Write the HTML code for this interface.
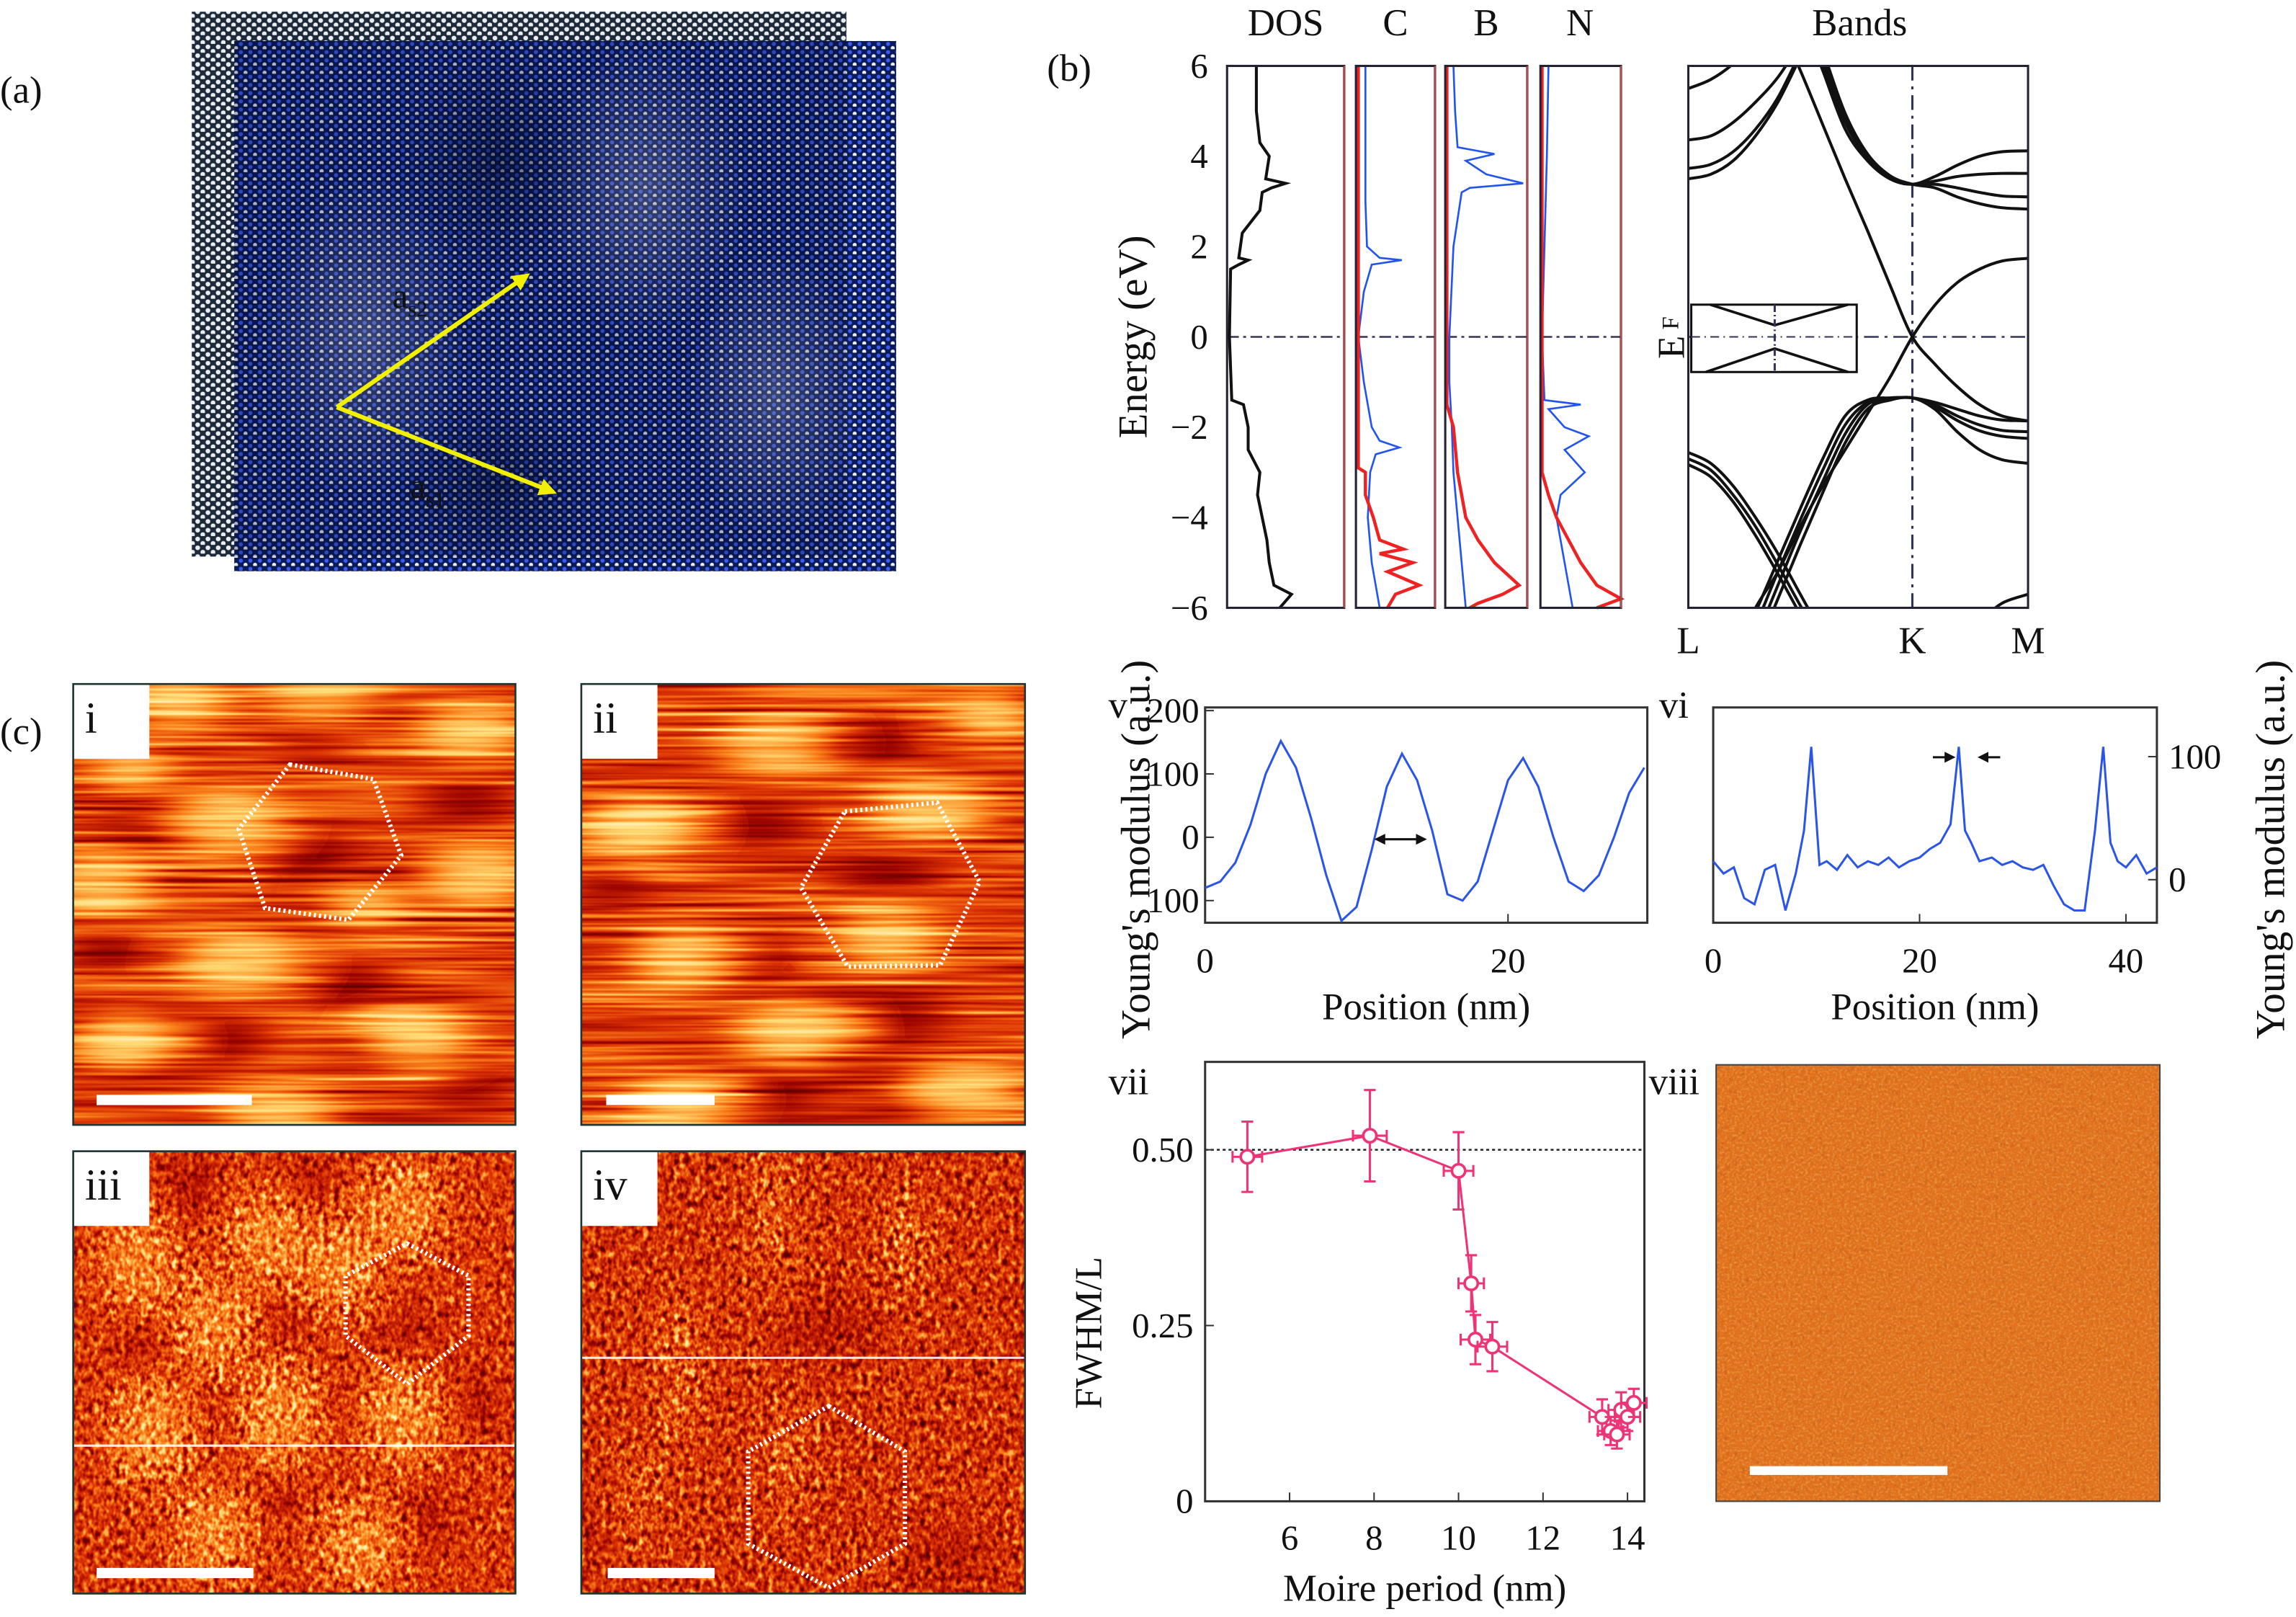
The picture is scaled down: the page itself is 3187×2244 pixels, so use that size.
<!DOCTYPE html>
<html><head><meta charset="utf-8"><style>
html,body{margin:0;padding:0;background:#fff;}
svg{display:block;}
text{font-family:"Liberation Serif",serif;fill:#111;}
</style></head><body>
<svg id="fig" xmlns="http://www.w3.org/2000/svg" width="3187" height="2244" viewBox="0 0 1568 1104" preserveAspectRatio="none" font-family="Liberation Serif, serif">
<defs>
  <pattern id="latG" width="7" height="6" patternUnits="userSpaceOnUse"><rect width="7" height="6" fill="#1e2a3a"/><circle cx="2" cy="2" r="1.6" fill="#e8eef0"/><circle cx="5.5" cy="5" r="1.6" fill="#e8eef0"/></pattern>
  <pattern id="latB" width="6.5" height="5.6" patternUnits="userSpaceOnUse"><rect width="6.5" height="5.6" fill="#0b1a58"/><circle cx="2" cy="2" r="1.4" fill="#3a5cf0"/><circle cx="5.2" cy="4.8" r="1.4" fill="#e8eefa"/></pattern>
  <radialGradient id="moireLight"><stop offset="0" stop-color="#ffffff" stop-opacity="0.2"/><stop offset="1" stop-color="#ffffff" stop-opacity="0"/></radialGradient>
  <radialGradient id="moireDark"><stop offset="0" stop-color="#000820" stop-opacity="0.45"/><stop offset="1" stop-color="#000820" stop-opacity="0"/></radialGradient>
  <filter id="blurA" x="-20%" y="-20%" width="140%" height="140%"><feGaussianBlur stdDeviation="15 8"/></filter>
  <filter id="blurB" x="-20%" y="-20%" width="140%" height="140%"><feGaussianBlur stdDeviation="12"/></filter>
  <filter id="noiseStreak" x="0" y="0" width="100%" height="100%" color-interpolation-filters="sRGB">
    <feTurbulence type="fractalNoise" baseFrequency="0.006 0.3" numOctaves="2" seed="3"/>
    <feColorMatrix type="matrix" values="1 1 0 0 -0.5  1 1 0 0 -0.5  1 1 0 0 -0.5  0 0 0 0 1"/>
  </filter>
  <filter id="noiseGrain" x="0" y="0" width="100%" height="100%" color-interpolation-filters="sRGB">
    <feTurbulence type="fractalNoise" baseFrequency="0.28 0.2" numOctaves="2" seed="7"/>
    <feColorMatrix type="matrix" values="1.2 1.2 0 0 -0.7  1.2 1.2 0 0 -0.7  1.2 1.2 0 0 -0.7  0 0 0 0 1"/>
  </filter>
  <filter id="hot" color-interpolation-filters="sRGB">
    <feComponentTransfer>
      <feFuncR type="table" tableValues="0.25 0.62 0.86 0.98 1 1"/>
      <feFuncG type="table" tableValues="0 0.02 0.2 0.5 0.85 1"/>
      <feFuncB type="table" tableValues="0 0 0.02 0.1 0.45 0.9"/>
    </feComponentTransfer>
  </filter>
  <filter id="fineNoise" x="0" y="0" width="100%" height="100%">
    <feTurbulence type="fractalNoise" baseFrequency="0.6" numOctaves="2" seed="5"/>
    <feColorMatrix type="matrix" values="0 0 0 0 1  0 0 0 0 0.75  0 0 0 0 0.3  1.8 0 0 0 -0.8"/>
  </filter>
  <filter id="grainDark" x="0" y="0" width="100%" height="100%">
    <feTurbulence type="fractalNoise" baseFrequency="0.4 0.25" numOctaves="2" seed="11"/>
    <feColorMatrix type="matrix" values="0 0 0 0 0.25  0 0 0 0 0.02  0 0 0 0 0  -2.4 0 0 0 1.05"/>
  </filter>
  <marker id="arrY" viewBox="0 0 10 10" refX="8" refY="5" markerWidth="4" markerHeight="4" orient="auto"><path d="M0,0 L10,5 L0,10 Z" fill="#f0f000"/></marker>
  <marker id="arrK" viewBox="0 0 10 10" refX="8" refY="5" markerWidth="5" markerHeight="5" orient="auto-start-reverse"><path d="M0,0 L10,5 L0,10 Z" fill="#111"/></marker>
  <clipPath id="clipBands"><rect x="1153" y="45" width="232" height="370"/></clipPath>
</defs>

<text x="0" y="70" font-size="26">(a)</text>
<g>
  <rect x="131" y="8" width="447" height="372" fill="url(#latG)"/>
  <rect x="160" y="28" width="452" height="362" fill="url(#latB)"/>
  <rect x="160" y="28" width="418" height="352" fill="#050c30" opacity="0.25"/>
  <ellipse cx="250" cy="230" rx="70" ry="110" fill="url(#moireLight)"/>
  <ellipse cx="440" cy="130" rx="70" ry="100" fill="url(#moireLight)"/>
  <ellipse cx="530" cy="270" rx="60" ry="100" fill="url(#moireLight)"/>
  <ellipse cx="340" cy="110" rx="70" ry="80" fill="url(#moireDark)"/>
  <ellipse cx="340" cy="330" rx="70" ry="60" fill="url(#moireDark)"/>
  <line x1="230" y1="278" x2="360" y2="188" stroke="#f0f000" stroke-width="3" marker-end="url(#arrY)"/>
  <line x1="230" y1="278" x2="378" y2="336" stroke="#f0f000" stroke-width="3" marker-end="url(#arrY)"/>
  <text x="268" y="210" font-size="24" fill="#000">a<tspan font-size="15" dy="6">s2</tspan></text>
  <text x="280" y="340" font-size="24" fill="#000">a<tspan font-size="15" dy="6">s1</tspan></text>
</g>

<text x="715" y="55" font-size="26">(b)</text>
<g id="bpanel"></g>

<text x="0" y="508" font-size="26">(c)</text>
<g id="afm"></g>
<g id="charts"></g>
</svg>
<script>
const NS="http://www.w3.org/2000/svg";
function el(tag,attrs,parent){const e=document.createElementNS(NS,tag);for(const k in attrs)e.setAttribute(k,attrs[k]);(parent||document.getElementById('fig')).appendChild(e);return e;}
function txt(s,x,y,size,parent,extra){const t=el('text',Object.assign({x:x,y:y,'font-size':size},extra||{}),parent);t.textContent=s;return t;}
function smooth(pts){if(pts.length<2)return'';let d='M'+pts[0][0]+','+pts[0][1];for(let i=0;i<pts.length-1;i++){const p0=pts[i-1]||pts[i],p1=pts[i],p2=pts[i+1],p3=pts[i+2]||p2;const c1=[p1[0]+(p2[0]-p0[0])/6,p1[1]+(p2[1]-p0[1])/6],c2=[p2[0]-(p3[0]-p1[0])/6,p2[1]-(p3[1]-p1[1])/6];d+=' C'+c1[0]+','+c1[1]+' '+c2[0]+','+c2[1]+' '+p2[0]+','+p2[1];}return d;}

const energyTicks=[6,4,2,0,-2,-4,-6];
const dosE=[6,5,4.3,4,3.5,3.4,3.3,3.2,2.8,2.3,1.75,1.7,1.6,1.5,0,-1.4,-1.5,-2,-2.5,-3,-3.5,-4,-4.5,-5,-5.5,-5.7,-5.85,-6];
const dosV=[.25,.25,.28,.36,.33,.5,.38,.3,.28,.13,.1,.18,.1,.03,.02,.04,.14,.18,.18,.28,.26,.3,.34,.36,.4,.55,.5,.45];
const cBlueE=[6,3,2,1.75,1.7,1.6,1,0,-1,-2,-2.3,-2.45,-2.6,-3,-4,-5,-6];
const cBlueV=[.12,.12,.14,.3,.58,.2,.1,.03,.1,.2,.3,.55,.25,.18,.15,.2,.3];
const cRedE=[6,-2.9,-3,-3.5,-4,-4.5,-4.7,-4.8,-5,-5.2,-5.5,-5.7,-6];
const cRedV=[.03,.03,.12,.12,.22,.3,.6,.3,.72,.4,.8,.5,.4];
const bBlueE=[6,5,4.2,4.05,3.9,3.6,3.4,3.3,3.2,2,0,-1,-2,-3,-4,-5,-6];
const bBlueV=[.1,.12,.15,.6,.25,.5,.95,.3,.2,.1,.05,.05,.08,.1,.15,.2,.25];
const bRedE=[6,-1.5,-2,-3,-4,-4.5,-5,-5.5,-5.7,-5.9,-6];
const bRedV=[.02,.02,.1,.15,.25,.4,.6,.9,.7,.4,.3];
const nBlueE=[6,4,2,0,-1.4,-1.5,-1.6,-2,-2.2,-2.5,-3,-3.5,-4,-5,-6];
const nBlueV=[.1,.08,.05,.02,.05,.5,.1,.3,.6,.3,.55,.25,.2,.3,.4];
const nRedE=[6,-3,-3.5,-4,-4.5,-5,-5.5,-5.8,-6];
const nRedV=[.02,.02,.1,.2,.35,.5,.7,1,.7];
const bandK=[0,.1,.2,.3,.4,.5,.6,.7,.8,.9,1,1.1,1.2,1.3,1.4,1.516];
const bandsE=[
 [14.9,14,13,8,7,5.9,4.7,3.5,2.35,1.15,0,-.6,-1.1,-1.5,-1.75,-1.86],
 [-9,-8,-7,-6,-5.2,-4.2,-3.3,-2.5,-1.7,-.9,0,.7,1.2,1.5,1.68,1.74],
 [null,null,null,null,9,7.2,5.9,4.6,3.9,3.5,3.38,3.55,3.8,4.0,4.1,4.12],
 [null,null,null,null,9,7.4,6.05,4.75,3.95,3.52,3.38,3.45,3.55,3.6,3.62,3.62],
 [null,null,null,null,9,7.6,6.2,4.85,4.0,3.55,3.38,3.38,3.3,3.2,3.12,3.1],
 [null,null,null,null,9,7.8,6.35,4.95,4.05,3.57,3.38,3.3,3.1,2.95,2.86,2.83],
 [5.5,5.7,6.05,6.6],
 [4.36,4.45,4.75,5.2,5.75,6.5],
 [3.73,3.82,4.1,4.6,5.3,6.3],
 [3.5,3.6,3.9,4.45,5.2,6.2],
 [-9.5,-8.3,-7.2,-6.1,-4.95,-3.8,-2.7,-1.75,-1.4,-1.35,-1.35,-1.45,-1.6,-1.75,-1.84,-1.86],
 [-9.8,-8.6,-7.5,-6.4,-5.2,-4.05,-2.95,-1.95,-1.45,-1.36,-1.35,-1.5,-1.75,-1.95,-2.07,-2.1],
 [-10.1,-8.9,-7.8,-6.7,-5.5,-4.3,-3.2,-2.15,-1.5,-1.38,-1.35,-1.55,-1.85,-2.08,-2.2,-2.25],
 [-10.4,-9.2,-8.1,-7.0,-5.8,-4.6,-3.45,-2.35,-1.6,-1.4,-1.35,-1.6,-2.1,-2.5,-2.72,-2.8],
 [-2.56,-2.8,-3.3,-4.0,-4.8,-5.7,-6.6],
 [-2.83,-3.1,-3.65,-4.4,-5.25,-6.15,-7.0],
 [-2.7,-2.95,-3.5,-4.2,-5.05,-5.95,-6.8],
 [null,null,null,null,null,null,null,null,null,null,null,null,null,-6.3,-5.9,-5.7]
];

const B=document.getElementById('bpanel');
const yE=e=>230-e*30.83;
[['DOS',878],['C',953],['B',1015],['N',1079],['Bands',1270]].forEach(([s,x])=>{const t=txt(s,x,24,26,B,{'text-anchor':'middle'});});
energyTicks.forEach(e=>{const t=txt(String(e).replace('-','−'),825,yE(e)+8,24,B,{'text-anchor':'end'});});
const yt=txt('Energy (eV)',0,0,28,B,{'text-anchor':'middle',transform:'translate(783,230) rotate(-90)'});

const panels=[{n:'dos',x:838,w:80,lines:[[dosE,dosV,'#111',2]]},
 {n:'c',x:926,w:54,lines:[[cBlueE,cBlueV,'#2255ee',1.3],[cRedE,cRedV,'#ee2222',2.2]]},
 {n:'b',x:987,w:56,lines:[[bBlueE,bBlueV,'#2255ee',1.3],[bRedE,bRedV,'#ee2222',2.2]]},
 {n:'n',x:1052,w:55,lines:[[nBlueE,nBlueV,'#2255ee',1.3],[nRedE,nRedV,'#ee2222',2.2]]}];
panels.forEach(p=>{
  const g=el('g',{},B);
  el('line',{x1:p.x,y1:yE(0),x2:p.x+p.w,y2:yE(0),stroke:'#335',"stroke-width":1.2,'stroke-dasharray':'8 3 2 3'},g);
  p.lines.forEach(([E,V,c,w])=>{const pts=E.map((e,i)=>[p.x+V[i]*p.w,yE(e)]);const l=el('polyline',{points:pts.map(q=>q.join(',')).join(' '),fill:'none',stroke:c,'stroke-width':w},g);});
  el('rect',{x:p.x,y:45,width:p.w,height:370,fill:'none',stroke:'#223',"stroke-width":1.5},g);
  el('line',{x1:p.x+p.w,y1:45,x2:p.x+p.w,y2:415,stroke:'#c44',"stroke-width":1},g);
});
const kx=k=>1153+k*153;
const bg=el('g',{'clip-path':'url(#clipBands)'},B);

el('line',{x1:1153,y1:yE(0),x2:1385,y2:yE(0),stroke:'#335',"stroke-width":1.2,'stroke-dasharray':'10 4 2 4'},bg);
el('line',{x1:kx(1),y1:45,x2:kx(1),y2:415,stroke:'#335',"stroke-width":1.5,'stroke-dasharray':'10 4 2 4'},bg);
bandsE.forEach(arr=>{const pts=[];arr.forEach((e,i)=>{if(e!==null)pts.push([kx(bandK[i]),yE(e)]);});const b=el('path',{d:smooth(pts),fill:'none',stroke:'#111','stroke-width':2},bg);});
el('rect',{x:1153,y:45,width:232,height:370,fill:'none',stroke:'#223','stroke-width':1.5},B);
const ins=el('g',{},B);
el('rect',{x:1155,y:208,width:113,height:46,fill:'#fff',stroke:'#111','stroke-width':1.5},ins);
el('polyline',{points:'1168,208 1212,222 1262,208',fill:'none',stroke:'#111','stroke-width':1.8},ins);
el('polyline',{points:'1165,254 1212,238 1262,254',fill:'none',stroke:'#111','stroke-width':1.8},ins);
el('line',{x1:1212,y1:208,x2:1212,y2:254,stroke:'#335','stroke-width':1.5,'stroke-dasharray':'5 2 1 2'},ins);
el('line',{x1:1155,y1:230,x2:1268,y2:230,stroke:'#335','stroke-width':1,'stroke-dasharray':'6 3 1 3'},ins);
const ef=txt('E',0,0,26,B,{transform:'translate(1150,245) rotate(-90)'});
txt('F',0,0,16,B,{transform:'translate(1146,225) rotate(-90)'});
[['L',0],['K',1],['M',1.516]].forEach(([s,k])=>{const t=txt(s,kx(k),446,26,B,{'text-anchor':'middle'});});

/* ---------- AFM images ---------- */
const A=document.getElementById('afm');
const afmPanels=[
 {n:'i',x:50,y:467,w:302,h:301,base:'#6e6e6e',blur:'blurA',noise:'noiseStreak',nop:.75,bo:.6,do:.6,
  bright:[[17,134,40,22],[101,93,42,24],[113,190,44,22],[273,130,40,22],[273,32,40,20],[34,243,38,22],[139,291,42,18],[235,243,38,20],[168,8,42,16],[71,12,38,18],[40,60,30,16],[200,150,30,16]],
  dark:[[164,36,28,14],[164,120,30,20],[269,81,32,16],[55,85,30,14],[189,206,32,16],[105,243,28,14],[269,275,32,14],[21,178,28,14]],
  hex:'198,522 255,532 274,584 238,628 181,620 163,566',bar:[66,172,751]},
 {n:'ii',x:397,y:467,w:303,h:301,base:'#6e6e6e',blur:'blurA',noise:'noiseStreak',nop:.75,bo:.6,do:.6,
  bright:[[41,97,40,20],[134,40,42,20],[238,85,42,20],[146,235,42,20],[259,277,44,20],[70,283,38,18],[70,186,38,20],[209,174,38,20],[280,20,32,18]],
  dark:[[121,95,34,16],[192,40,36,16],[209,134,36,16],[112,190,34,16],[217,231,34,16],[129,279,34,16],[20,136,28,14]],
  hex:'577,554 640,548 669,602 642,659 579,660 547,606',bar:[414,488,751]},
 {n:'iii',x:50,y:786,w:302,h:302,base:'#666666',blur:'blurB',noise:'noiseGrain',nop:.8,bo:.38,do:.4,
  bright:[[53,192,28,36],[141,180,28,36],[225,180,28,36],[95,119,26,32],[132,59,26,32],[225,38,26,32],[44,75,26,32],[183,79,26,32],[95,261,26,32],[195,269,26,32]],
  dark:[[53,132,24,26],[99,176,22,24],[183,176,22,24],[141,119,22,26],[267,172,22,24],[225,132,22,26],[82,30,22,24],[158,30,22,24],[141,233,22,24],[233,249,22,24]],
  hex:'278,849 320,871 320,912 278,945 236,912 236,871',bar:[66,173,1074],line:987},
 {n:'iv',x:397,y:786,w:303,h:302,base:'#626262',blur:'blurB',noise:'noiseGrain',nop:.9,bo:.3,do:.25,dk:true,
  bright:[[66,150,9,55],[129,40,9,50],[222,60,9,40],[140,210,8,40],[40,240,12,35]],
  dark:[[30,250,30,35],[250,280,30,25],[170,120,35,25]],
  hex:'566,960 618,991 618,1054 566,1084 511,1054 511,991',bar:[415,488,1074],line:927}
];
afmPanels.forEach((p,idx)=>{
  const cid='clipAfm'+idx;
  const cp=el('clipPath',{id:cid},document.querySelector('defs'));el('rect',{x:p.x,y:p.y,width:p.w,height:p.h},cp);
  const g=el('g',{'clip-path':'url(#'+cid+')'},A);
  
  const hg=el('g',{filter:'url(#hot)'},g);
  el('rect',{x:p.x,y:p.y,width:p.w,height:p.h,fill:p.base},hg);
  const blobs=el('g',{filter:'url(#'+p.blur+')'},hg);
  p.dark.forEach(b=>el('ellipse',{cx:p.x+b[0],cy:p.y+b[1],rx:b[2],ry:b[3],fill:'#000',opacity:p.do},blobs));
  p.bright.forEach(b=>el('ellipse',{cx:p.x+b[0],cy:p.y+b[1],rx:b[2],ry:b[3],fill:'#fff',opacity:p.bo},blobs));
  el('rect',{x:p.x,y:p.y,width:p.w,height:p.h,filter:'url(#'+p.noise+')',opacity:p.nop,style:'mix-blend-mode:overlay'},hg);
  if(p.dk)el('rect',{x:p.x,y:p.y,width:p.w,height:p.h,filter:'url(#grainDark)',opacity:.45},g);
  if(p.line)el('line',{x1:p.x,y1:p.line,x2:p.x+p.w,y2:p.line,stroke:'#fff','stroke-width':1.5,opacity:.9},g);
  const hx=el('polygon',{points:p.hex,fill:'none',stroke:'#fff','stroke-width':3,'stroke-dasharray':'1.5 2'},g);
  
  const sb=el('line',{x1:p.bar[0],y1:p.bar[2],x2:p.bar[1],y2:p.bar[2],stroke:'#fff','stroke-width':7},g);
  
  el('rect',{x:p.x-1,y:p.y-1,width:53,height:52,fill:'#fff'},g);
  el('rect',{x:p.x,y:p.y,width:p.w,height:p.h,fill:'none',stroke:'#233','stroke-width':1.3},A);
  const lb=txt(p.n,p.x+8,p.y+33,30,A);
});
(function(){
  const cp=el('clipPath',{id:'clip8'},document.querySelector('defs'));el('rect',{x:1172,y:727,width:303,height:298},cp);
  const g=el('g',{'clip-path':'url(#clip8)'},A);
  el('rect',{x:1172,y:727,width:303,height:298,fill:'#e0701c'},g);
  el('rect',{x:1172,y:727,width:303,height:298,filter:'url(#fineNoise)',opacity:.5},g);
  el('rect',{x:1172,y:727,width:303,height:298,filter:'url(#grainDark)',opacity:.25},g);
  const sb=el('line',{x1:1195,y1:1004,x2:1330,y2:1004,stroke:'#fff','stroke-width':6},g);
  
  el('rect',{x:1172,y:727,width:303,height:298,fill:'none',stroke:'#444','stroke-width':1},A);
})();

/* ---------- line profiles v, vi ---------- */
const profVx=[0,1,2,3,4,5,6,7,8,9,10,11,12,13,14,15,16,17,18,19,20,21,22,23,24,25,26,27,28,29];
const profVy=[-80,-70,-40,20,100,152,110,30,-60,-132,-110,-20,80,132,90,10,-90,-100,-70,10,90,125,80,0,-70,-85,-60,0,70,110];
const vTicksY=[200,100,0,-100];
const vTicksX=[0,20];
const profVIx=[0,1,2,3,4,5,6,7,8,8.8,9.5,10.3,11,12,13,14,15,16,17,18,19,20,21,22,23,23.8,24.4,25,25.8,27,28,29,30,31,32,33,34,35,36,37,37.8,38.5,39.2,40,41,42,43];
const profVIy=[15,5,10,-15,-20,8,12,-25,5,40,108,12,15,8,20,10,15,12,18,10,15,18,25,30,45,108,40,30,15,18,12,15,10,8,12,-5,-20,-25,-25,40,108,30,15,10,20,5,10];
const viTicksY=[100,0];
const viTicksX=[0,20,40];
const C=document.getElementById('charts');
function profile(name,box,xmax,ymin,ymax,xs,ys,ticksX,ticksY,tickSide){
  const g=el('g',{},C);
  const sx=v=>box.x+v/xmax*box.w, sy=v=>box.y+box.h-(v-ymin)/(ymax-ymin)*box.h;
  el('rect',{x:box.x,y:box.y,width:box.w,height:box.h,fill:'none',stroke:'#333','stroke-width':1.5},g);
  const pl=el('polyline',{points:xs.map((x,i)=>sx(x)+','+sy(ys[i])).join(' '),fill:'none',stroke:'#2a55e6','stroke-width':1.5},g);
  
  ticksX.forEach(v=>{el('line',{x1:sx(v),y1:box.y+box.h,x2:sx(v),y2:box.y+box.h-6,stroke:'#333'},g);const t=txt(String(v),sx(v),box.y+box.h+34,24,g,{'text-anchor':'middle'});});
  ticksY.forEach(v=>{const X=tickSide==='left'?box.x:box.x+box.w;el('line',{x1:X,y1:sy(v),x2:tickSide==='left'?X+6:X-6,y2:sy(v),stroke:'#333'},g);
    const lab=v<0?String(-v):String(v);
    const t=txt(lab,tickSide==='left'?X-4:X+8,sy(v)+8,24,g,{'text-anchor':tickSide==='left'?'end':'start'});});
  const xt=txt('Position (nm)',box.x+box.w/2,box.y+box.h+66,26,g,{'text-anchor':'middle'});
  return {sx,sy,g};
}
const pv=profile('profile-v',{x:823,y:483,w:302,h:147},29.2,-135,205,profVx,profVy,vTicksX,vTicksY,'left');
el('line',{x1:940,y1:573,x2:973,y2:573,stroke:'#111','stroke-width':1.5,'marker-start':'url(#arrK)','marker-end':'url(#arrK)'},pv.g);
const pvi=profile('profile-vi',{x:1170,y:483,w:303,h:147},43,-35,140,profVIx,profVIy,viTicksX,viTicksY,'right');
el('line',{x1:1320,y1:517,x2:1334,y2:517,stroke:'#111','stroke-width':1.5,'marker-end':'url(#arrK)'},pvi.g);
el('line',{x1:1366,y1:517,x2:1352,y2:517,stroke:'#111','stroke-width':1.5,'marker-end':'url(#arrK)'},pvi.g);
let t1=txt("Young's modulus (a.u.)",0,0,28,C,{'text-anchor':'middle',transform:'translate(785,580) rotate(-90)'});
let t2=txt("Young's modulus (a.u.)",0,0,28,C,{'text-anchor':'middle',transform:'translate(1560,580) rotate(-90)'});
[['v',757,490],['vi',1133,490],['vii',757,747],['viii',1126,747]].forEach(([s,x,y])=>{const t=txt(s,x,y,26,C);});

/* ---------- vii FWHM/L ---------- */
const moireX=[5.0,7.9,10.0,10.3,10.4,10.8,13.4,13.6,13.75,13.85,14.0,14.15];
const fwhmY=[0.49,0.52,0.47,0.31,0.23,0.22,0.12,0.10,0.095,0.13,0.12,0.14];
const errX=[0.35,0.4,0.35,0.3,0.35,0.35,0.3,0.3,0.3,0.3,0.3,0.3];
const errY=[0.05,0.065,0.055,0.04,0.035,0.035,0.025,0.02,0.02,0.025,0.02,0.02];
const viiTicksX=[6,8,10,12,14];
const viiTicksY=[0,0.25,0.5];
(function(){
  const box={x:823,y:725,w:300,h:300};
  const sx=v=>box.x+(v-4.0)/(14.4-4.0)*box.w, sy=v=>box.y+box.h-v/0.625*box.h;
  const g=el('g',{},C);
  el('rect',{x:box.x,y:box.y,width:box.w,height:box.h,fill:'none',stroke:'#333','stroke-width':1.5},g);
  el('line',{x1:box.x,y1:sy(0.5),x2:box.x+box.w,y2:sy(0.5),stroke:'#222','stroke-width':1.2,'stroke-dasharray':'2 2'},g);
  viiTicksX.forEach(v=>{el('line',{x1:sx(v),y1:box.y+box.h,x2:sx(v),y2:box.y+box.h-6,stroke:'#333'},g);const t=txt(String(v),sx(v),box.y+box.h+33,24,g,{'text-anchor':'middle'});});
  viiTicksY.forEach(v=>{el('line',{x1:box.x,y1:sy(v),x2:box.x+6,y2:sy(v),stroke:'#333'},g);const t=txt(v===0?'0':v.toFixed(2),box.x-8,sy(v)+8,24,g,{'text-anchor':'end'});});
  const ln=el('polyline',{points:moireX.map((x,i)=>sx(x)+','+sy(fwhmY[i])).join(' '),fill:'none',stroke:'#ee3377','stroke-width':1.5},g);
  
  moireX.forEach((x,i)=>{
    const cx=sx(x),cy=sy(fwhmY[i]);
    el('line',{x1:sx(x-errX[i]),y1:cy,x2:sx(x+errX[i]),y2:cy,stroke:'#ee3377','stroke-width':1.5},g);
    el('line',{x1:cx,y1:sy(fwhmY[i]-errY[i]),x2:cx,y2:sy(fwhmY[i]+errY[i]),stroke:'#ee3377','stroke-width':1.5},g);
    [[sx(x-errX[i]),cy,0],[sx(x+errX[i]),cy,0],[cx,sy(fwhmY[i]-errY[i]),1],[cx,sy(fwhmY[i]+errY[i]),1]].forEach(([a,b,v])=>el('line',v?{x1:a-4,y1:b,x2:a+4,y2:b,stroke:'#ee3377','stroke-width':1.5}:{x1:a,y1:b-4,x2:a,y2:b+4,stroke:'#ee3377','stroke-width':1.5},g));
    const c=el('circle',{cx:cx,cy:cy,r:4.5,fill:'#fff',stroke:'#ee3377','stroke-width':1.8},g);
    
  });
  const xt=txt('Moire period (nm)',box.x+box.w/2,box.y+box.h+68,26,g,{'text-anchor':'middle'});
  const yt=txt('FWHM/L',0,0,26,g,{'text-anchor':'middle',transform:'translate(752,910) rotate(-90)'});
})();
</script>
</body></html>
